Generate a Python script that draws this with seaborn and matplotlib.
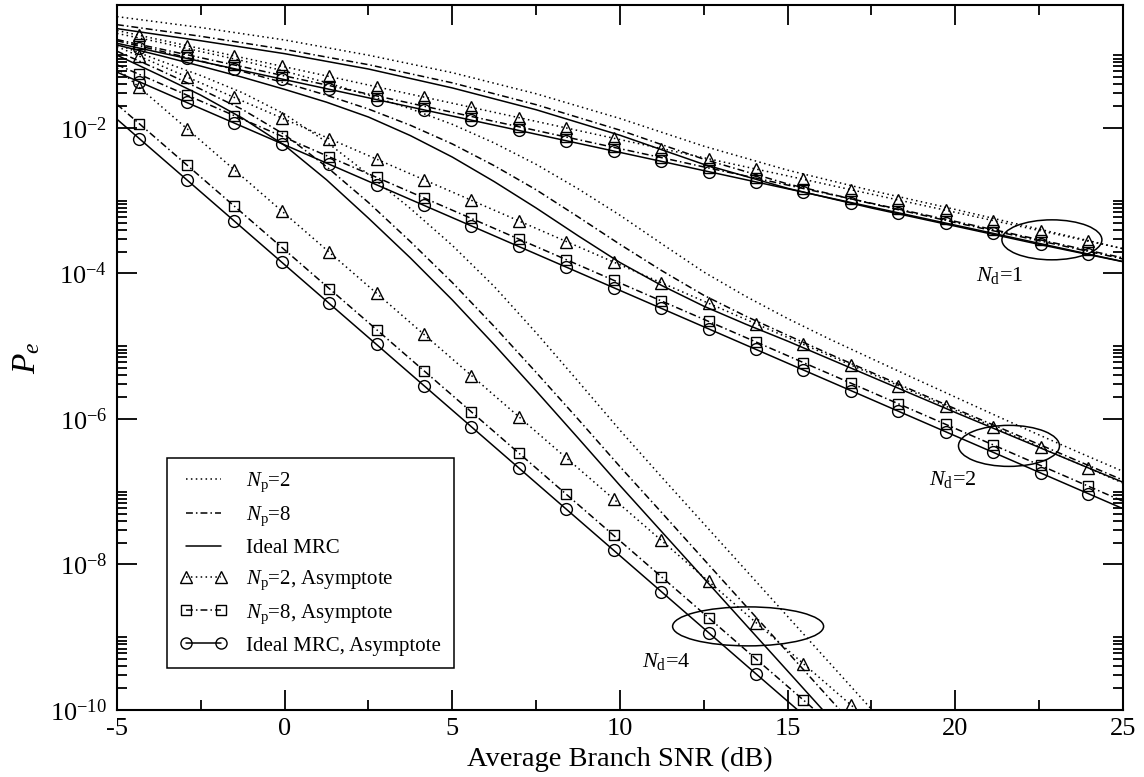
import matplotlib
matplotlib.use("Agg")
import matplotlib.pyplot as plt
import seaborn as sns
from matplotlib.lines import Line2D
from matplotlib.patches import Ellipse
from matplotlib.ticker import FixedLocator, FixedFormatter

# ---------------------------------------------------------------
# Average branch SNR (dB) of the high-SNR asymptotes; the markers
# sit on the inner points, the first/last points extend the lines.
snr_asym = [-5, -4.33, -2.92, -1.50, -0.09, 1.33, 2.74, 4.15, 5.57, 6.98,
            8.40, 9.81, 11.23, 12.64, 14.06, 15.47, 16.89, 18.30, 19.71,
            21.13, 22.54, 23.96, 25]

# N_d = 1 asymptotes
nd1_ideal_asym = [0.1459, 0.1250, 0.0904, 0.0652, 0.0471, 0.0340, 0.02455,
                  0.01774, 0.01279, 9.25e-3, 6.67e-3, 4.82e-3, 3.48e-3, 2.51e-3,
                  1.81e-3, 1.31e-3, 9.44e-4, 6.82e-4, 4.93e-4, 3.56e-4, 2.57e-4,
                  1.85e-4, 1.46e-4]
nd1_np8_asym = [0.1641, 0.1406, 0.1017, 0.0734, 0.0530, 0.03825, 0.02762,
                0.01996, 0.01439, 1.041e-2, 7.50e-3, 5.42e-3, 3.92e-3, 2.82e-3,
                2.04e-3, 1.47e-3, 1.062e-3, 7.67e-4, 5.55e-4, 4.01e-4, 2.89e-4,
                2.08e-4, 1.64e-4]
nd1_np2_asym = [0.2189, 0.1875, 0.1356, 0.0978, 0.0707, 0.0510, 0.0368,
                0.0266, 0.0192, 1.388e-2, 1.000e-2, 7.23e-3, 5.22e-3, 3.77e-3,
                2.72e-3, 1.97e-3, 1.416e-3, 1.023e-3, 7.40e-4, 5.34e-4, 3.86e-4,
                2.78e-4, 2.19e-4]

# N_d = 2 asymptotes
nd2_ideal_asym = [5.85e-2, 4.30e-2, 2.24e-2, 1.167e-2, 6.10e-3, 3.17e-3,
                  1.656e-3, 8.65e-4, 4.50e-4, 2.35e-4, 1.222e-4, 6.38e-5,
                  3.32e-5, 1.734e-5, 9.02e-6, 4.71e-6, 2.45e-6, 1.279e-6,
                  6.68e-7, 3.48e-7, 1.815e-7, 9.44e-8, 5.85e-8]
nd2_np8_asym = [7.40e-2, 5.44e-2, 2.835e-2, 1.477e-2, 7.72e-3, 4.01e-3,
                2.096e-3, 1.095e-3, 5.70e-4, 2.974e-4, 1.547e-4, 8.07e-5,
                4.20e-5, 2.195e-5, 1.142e-5, 5.96e-6, 3.10e-6, 1.619e-6,
                8.45e-7, 4.40e-7, 2.297e-7, 1.195e-7, 7.40e-8]
nd2_np2_asym = [0.1316, 9.68e-2, 5.04e-2, 2.626e-2, 1.373e-2, 7.13e-3,
                3.73e-3, 1.946e-3, 1.013e-3, 5.29e-4, 2.75e-4, 1.436e-4,
                7.47e-5, 3.90e-5, 2.03e-5, 1.060e-5, 5.51e-6, 2.88e-6,
                1.503e-6, 7.83e-7, 4.08e-7, 2.124e-7, 1.316e-7]

# N_d = 4 asymptotes
nd4_ideal_asym = [1.318e-2, 7.11e-3, 1.941e-3, 5.25e-4, 1.432e-4, 3.87e-5,
                  1.057e-5, 2.884e-6, 7.80e-7, 2.128e-7, 5.75e-8, 1.570e-8,
                  4.25e-9, 1.159e-9, 3.13e-10, 8.55e-11, 2.31e-11, 6.31e-12,
                  1.722e-12, 4.66e-13, 1.271e-13, 3.44e-14, 1.318e-14]
nd4_np8_asym = [2.111e-2, 1.139e-2, 3.109e-3, 8.41e-4, 2.294e-4, 6.20e-5,
                1.693e-5, 4.62e-6, 1.249e-6, 3.41e-7, 9.21e-8, 2.515e-8,
                6.81e-9, 1.856e-9, 5.01e-10, 1.370e-10, 3.70e-11, 1.011e-11,
                2.758e-12, 7.46e-13, 2.036e-13, 5.51e-14, 2.111e-14]
nd4_np2_asym = [6.67e-2, 3.60e-2, 9.83e-3, 2.658e-3, 7.25e-4, 1.959e-4,
                5.35e-5, 1.460e-5, 3.95e-6, 1.077e-6, 2.911e-7, 7.95e-8,
                2.152e-8, 5.87e-9, 1.585e-9, 4.33e-10, 1.169e-10, 3.19e-11,
                8.72e-12, 2.359e-12, 6.43e-13, 1.741e-13, 6.67e-14]

# ---------------------------------------------------------------
# Exact error probability curves
snr_nd1 = [-5, -2.5, 0, 2.5, 5, 7.5, 10, 12.5, 15, 17.5, 20, 22.5, 25]
nd1_ideal = [0.232, 0.158, 0.105, 0.0646, 0.0355, 0.0178, 7.94e-3, 3.16e-3,
             1.48e-3, 7.94e-4, 4.47e-4, 2.51e-4, 1.45e-4]
nd1_np8 = [0.263, 0.182, 0.120, 0.0741, 0.0417, 0.0209, 9.33e-3, 3.72e-3,
           1.70e-3, 9.12e-4, 5.01e-4, 2.82e-4, 1.585e-4]
nd1_np2 = [0.339, 0.240, 0.162, 0.100, 0.0575, 0.0295, 0.0135, 5.62e-3,
           2.63e-3, 1.38e-3, 7.59e-4, 4.07e-4, 2.19e-4]

snr_nd2 = [-5, -3.75, -2.5, -1.25, 0, 1.25, 2.5, 3.75, 5, 6.25, 7.5, 8.75,
           10, 11.25, 12.5, 13.75, 15, 16.25, 17.5, 18.75, 20, 21.25, 22.5,
           23.75, 25]
nd2_ideal = [0.138, 9.98e-2, 7.08e-2, 4.97e-2, 3.39e-2, 2.26e-2, 1.413e-2,
             7.85e-3, 3.98e-3, 1.830e-3, 7.94e-4, 3.30e-4, 1.413e-4, 6.81e-5,
             3.55e-5, 2.01e-5, 1.175e-5, 6.68e-6, 3.80e-6, 2.16e-6, 1.23e-6,
             7.08e-7, 4.07e-7, 2.34e-7, 1.35e-7]
nd2_np8 = [0.158, 0.1156, 8.32e-2, 5.96e-2, 4.17e-2, 2.82e-2, 1.82e-2,
           1.089e-2, 6.03e-3, 3.03e-3, 1.413e-3, 6.01e-4, 2.51e-4, 1.090e-4,
           5.01e-5, 2.59e-5, 1.413e-5, 7.80e-6, 4.37e-6, 2.455e-6, 1.38e-6,
           7.85e-7, 4.47e-7, 2.54e-7, 1.445e-7]
nd2_np2 = [0.1995, 0.1514, 0.1122, 8.38e-2, 6.03e-2, 4.20e-2, 2.82e-2,
           1.837e-2, 1.122e-2, 6.22e-3, 3.16e-3, 1.459e-3, 6.31e-4, 2.55e-4,
           1.047e-4, 4.85e-5, 2.40e-5, 1.253e-5, 6.76e-6, 3.66e-6, 2.0e-6,
           1.091e-6, 6.03e-7, 3.37e-7, 1.905e-7]

snr_nd4 = [-5, -3.75, -2.5, -1.25, 0, 1.25, 2.5, 3.75, 5, 6.25, 7.5, 8.75,
           10, 11.25, 12.5, 13.75, 15, 16.25, 17.5, 18.75]
nd4_ideal = [0.100, 5.37e-2, 2.82e-2, 1.358e-2, 5.75e-3, 1.936e-3, 5.75e-4,
             1.633e-4, 4.32e-5, 1.050e-5, 2.43e-6, 5.47e-7, 1.216e-7,
             2.80e-8, 6.46e-9, 1.488e-9, 3.43e-10, 7.90e-11, 1.82e-11,
             4.17e-12]
nd4_np8 = [0.1135, 6.31e-2, 3.41e-2, 1.786e-2, 8.09e-3, 2.93e-3, 9.44e-4,
           2.74e-4, 7.50e-5, 1.866e-5, 4.37e-6, 9.95e-7, 2.21e-7, 5.13e-8,
           1.175e-8, 2.70e-9, 6.24e-10, 1.436e-10, 3.31e-11, 7.59e-12]
nd4_np2 = [0.1413, 8.51e-2, 5.25e-2, 3.04e-2, 1.549e-2, 6.41e-3, 2.29e-3,
           7.82e-4, 2.43e-4, 6.62e-5, 1.531e-5, 3.30e-6, 7.00e-7, 1.576e-7,
           3.63e-8, 8.37e-9, 1.928e-9, 4.44e-10, 1.023e-10, 2.34e-11]

# Axis ticks
x_major = [-5, 0, 5, 10, 15, 20, 25]
x_minor = [-2.5, 2.5, 7.5, 12.5, 17.5, 22.5]
y_major = [1e-10, 1e-8, 1e-6, 1e-4, 1e-2]
y_major_labels = [r"$10^{-10}$", r"$10^{-8}$", r"$10^{-6}$", r"$10^{-4}$",
                  r"$10^{-2}$"]
legend_labels = [r"$N_\mathrm{p}$=2", r"$N_\mathrm{p}$=8", "Ideal MRC",
                 r"$N_\mathrm{p}$=2, Asymptote", r"$N_\mathrm{p}$=8, Asymptote",
                 "Ideal MRC, Asymptote"]
group_labels = [r"$N_\mathrm{d}$=1", r"$N_\mathrm{d}$=2", r"$N_\mathrm{d}$=4"]

# ---------------------------------------------------------------
sns.set_theme(style="ticks")
plt.rcParams.update({
    "font.family": ["Liberation Serif", "DejaVu Serif"],
    "mathtext.fontset": "custom",
    "mathtext.rm": "Liberation Serif",
    "mathtext.it": "Liberation Serif:italic",
    "mathtext.bf": "Liberation Serif:bold",
    "axes.unicode_minus": False,
    "text.color": "black",
    "axes.labelcolor": "black",
    "xtick.color": "black",
    "ytick.color": "black",
})

DOT = (0, (1, 2.2))
DASHDOT = (0, (4.5, 2.0, 1.0, 2.0))
SOLID = "-"
LW = 1.1

fig = plt.figure(figsize=(11.44, 7.77), dpi=100)
ax = fig.add_axes([0.10227, 0.08623, 0.87937, 0.90734])
ax.set_yscale("log")


def curve(x, y, ls, marker=None, ms=8.5):
    kws = dict(x=x, y=y, ax=ax, color="black", linewidth=LW, linestyle=ls,
               estimator=None, sort=False, legend=False)
    if marker is not None:
        kws.update(marker=marker, markevery=slice(1, -1), markersize=ms,
                   markerfacecolor="none", markeredgecolor="black",
                   markeredgewidth=1.0)
    sns.lineplot(**kws)


# exact curves
for xs, ideal, np8, np2 in [(snr_nd1, nd1_ideal, nd1_np8, nd1_np2),
                            (snr_nd2, nd2_ideal, nd2_np8, nd2_np2),
                            (snr_nd4, nd4_ideal, nd4_np8, nd4_np2)]:
    curve(xs, np2, DOT)
    curve(xs, np8, DASHDOT)
    curve(xs, ideal, SOLID)

# asymptotes
for ideal, np8, np2 in [(nd1_ideal_asym, nd1_np8_asym, nd1_np2_asym),
                        (nd2_ideal_asym, nd2_np8_asym, nd2_np2_asym),
                        (nd4_ideal_asym, nd4_np8_asym, nd4_np2_asym)]:
    curve(snr_asym, np2, DOT, "^", 9)
    curve(snr_asym, np8, DASHDOT, "s", 7.5)
    curve(snr_asym, ideal, SOLID, "o", 8.5)

ax.set_xlim(-5, 25)
ax.set_ylim(1e-10, 0.49)

ax.xaxis.set_major_locator(FixedLocator(x_major))
ax.xaxis.set_minor_locator(FixedLocator(x_minor))
ax.xaxis.set_major_formatter(FixedFormatter([str(v) for v in x_major]))
ax.yaxis.set_major_locator(FixedLocator(y_major))
ax.yaxis.set_major_formatter(FixedFormatter(y_major_labels))
y_minor = [k * d for d in y_major for k in range(2, 11)]
ax.yaxis.set_minor_locator(FixedLocator(y_minor))
ax.yaxis.set_minor_formatter(FixedFormatter([""] * len(y_minor)))

ax.tick_params(which="both", direction="in", top=True, right=True,
               width=1.3, colors="black")
ax.tick_params(which="major", length=14.4, labelsize=19)
ax.tick_params(axis="x", which="major", pad=6)
ax.tick_params(axis="y", which="major", pad=7)
ax.tick_params(which="minor", length=7.2)
for s in ax.spines.values():
    s.set_linewidth(1.5)
    s.set_color("black")
ax.grid(False)

ax.set_xlabel("Average Branch SNR (dB)", fontsize=20.5, labelpad=5)
ax.set_ylabel(r"$P_e$", fontsize=24, labelpad=6)

# legend
handles = [
    Line2D([], [], color="black", lw=LW, ls=DOT),
    Line2D([], [], color="black", lw=LW, ls=DASHDOT),
    Line2D([], [], color="black", lw=LW, ls=SOLID),
    Line2D([], [], color="black", lw=LW, ls=DOT, marker="^", ms=8,
           mfc="none", mec="black", mew=1.0),
    Line2D([], [], color="black", lw=LW, ls=DASHDOT, marker="s", ms=7,
           mfc="none", mec="black", mew=1.0),
    Line2D([], [], color="black", lw=LW, ls=SOLID, marker="o", ms=8,
           mfc="none", mec="black", mew=1.0),
]
leg = ax.legend(handles, legend_labels, loc="upper left",
                bbox_to_anchor=(0.0497, 0.3574), borderaxespad=0,
                fontsize=15, numpoints=2, handlelength=2.3,
                handletextpad=0.9, labelspacing=0.5, borderpad=0.6,
                frameon=True, fancybox=False, framealpha=1)
leg.get_frame().set_edgecolor("black")
leg.get_frame().set_linewidth(1.1)

# group rings and labels
fig.canvas.draw()
to_axes = ax.transData + ax.transAxes.inverted()
rings = [((22.88, 2.9e-4), 0.0994, 0.0567),
         ((21.60, 4.27e-7), 0.1004, 0.0582),
         ((13.82, 1.41e-9), 0.1501, 0.0553)]
for (cx, cy), w, h in rings:
    ax.add_patch(Ellipse(to_axes.transform((cx, cy)), w, h,
                         transform=ax.transAxes, fill=False,
                         edgecolor="black", lw=1.1))
label_pos = [(21.33, 9.3e-5), (19.93, 1.46e-7), (11.37, 4.57e-10)]
for (tx, ty), txt in zip(label_pos, group_labels):
    ax.text(tx, ty, txt, fontsize=16, ha="center", va="center")

fig.savefig("out.png", dpi=100)
